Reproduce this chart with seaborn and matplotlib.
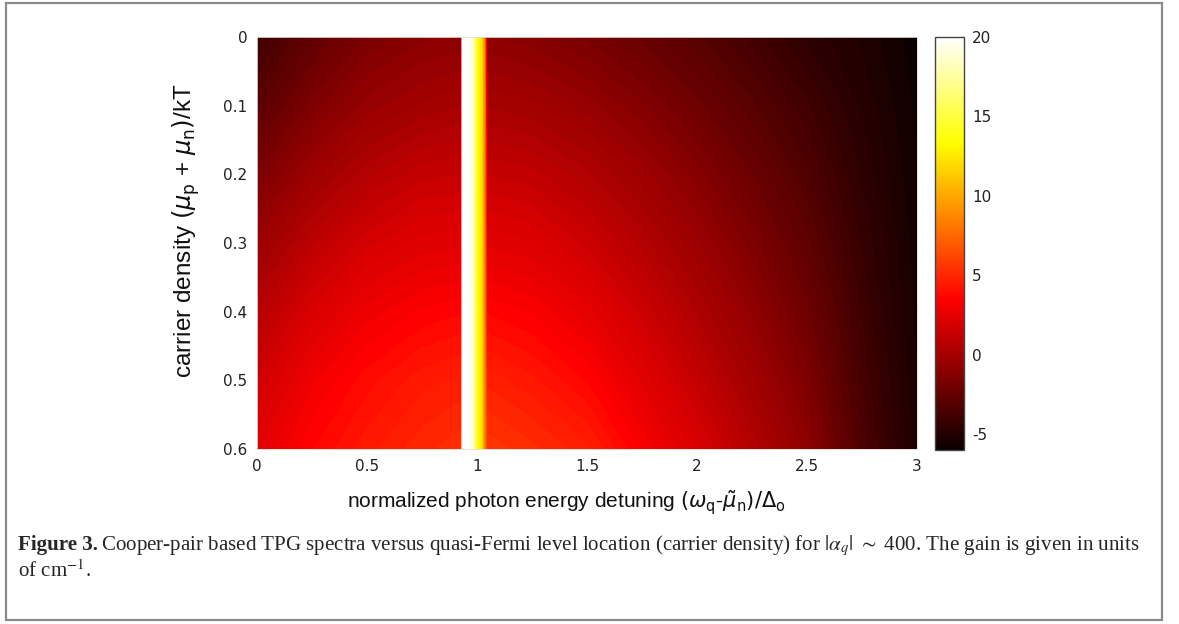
import numpy as np
import matplotlib
matplotlib.use("Agg")
import matplotlib.pyplot as plt
import matplotlib.patches as mpatches
from matplotlib.colors import Normalize
from matplotlib.cm import ScalarMappable
import seaborn as sns

# ---- data ----
carrier_density = [0.0, 0.1, 0.2, 0.3, 0.4, 0.5, 0.6]
detuning = [0.0, 0.25, 0.5, 0.75, 0.928, 0.936, 0.982, 0.995, 1.02, 1.035, 1.045,
            1.25, 1.5, 1.75, 2.0, 2.25, 2.5, 2.75, 3.0]
gain_y00 = [-4.0, -2.6, -1.6, -1.1, -1.0, 21, 18.5, 14, 12, 8, -1.0, -1.2, -1.7, -2.3, -3.0, -3.8, -4.6, -5.2, -5.9]
gain_y01 = [-2.9, -1.5, -0.6, -0.1, 0.1, 21, 18.5, 14, 12, 8, 0.1, -0.1, -0.6, -1.3, -2.1, -3.0, -3.9, -4.9, -5.8]
gain_y02 = [-1.6, -0.3, 0.6, 1.2, 1.3, 21, 18.5, 14, 12, 8, 1.3, 1.1, 0.5, -0.3, -1.2, -2.2, -3.3, -4.6, -5.7]
gain_y03 = [-0.4, 0.9, 1.8, 2.3, 2.4, 21, 18.5, 14, 12, 8, 2.4, 2.2, 1.5, 0.6, -0.4, -1.5, -2.7, -4.3, -5.6]
gain_y04 = [0.7, 2.0, 2.9, 3.4, 3.6, 21, 18.5, 14, 12, 8, 3.6, 3.3, 2.6, 1.5, 0.4, -0.8, -2.1, -4.0, -5.5]
gain_y05 = [1.6, 3.0, 3.8, 4.4, 4.6, 21, 18.5, 14, 12, 8, 4.7, 4.3, 3.6, 2.4, 1.2, -0.1, -1.5, -3.7, -5.4]
gain_y06 = [2.4, 3.6, 4.4, 5.0, 5.3, 21, 18.5, 14, 12, 8, 5.6, 5.2, 4.6, 3.3, 2.0, 0.6, -0.9, -3.4, -5.3]
x_ticks = [0, 0.5, 1, 1.5, 2, 2.5, 3]
x_ticklabels = ["0", "0.5", "1", "1.5", "2", "2.5", "3"]
y_ticks = [0, 0.1, 0.2, 0.3, 0.4, 0.5, 0.6]
y_ticklabels = ["0", "0.1", "0.2", "0.3", "0.4", "0.5", "0.6"]
cbar_ticks = [-5, 0, 5, 10, 15, 20]
cbar_ticklabels = ["-5", "0", "5", "10", "15", "20"]

sns.set_theme(style="white")
plt.rcParams['font.family'] = ['DejaVu Sans']
plt.rcParams['axes.unicode_minus'] = False

Z = np.array([gain_y00, gain_y01, gain_y02, gain_y03, gain_y04, gain_y05, gain_y06])
X, Y = np.meshgrid(detuning, carrier_density)

W, H = 1179, 624
fig = plt.figure(figsize=(W / 100, H / 100), dpi=100)

cmap = sns.color_palette("hot", as_cmap=True)
norm = Normalize(vmin=-6, vmax=20)
ax = fig.add_axes([257 / W, 1 - 449 / H, 660 / W, 412 / H])
levels = np.linspace(-6, 20, 90)
ax.contourf(X, Y, Z, levels=levels, cmap=cmap, norm=norm, extend="both", antialiased=False)
ax.set_xlim(0, 3)
ax.set_ylim(0.6, 0)
ax.set_xticks(x_ticks)
ax.set_xticklabels(x_ticklabels)
ax.set_yticks(y_ticks)
ax.set_yticklabels(y_ticklabels)
ax.tick_params(axis="both", length=0, labelsize=11, colors="#222222", pad=7)
for s in ax.spines.values():
    s.set_color("#dddddd")
    s.set_linewidth(0.6)

label_fam = ['Liberation Sans Narrow', 'Liberation Sans', 'DejaVu Sans']
ax.set_xlabel(r"normalized photon energy detuning $(\omega_{\rm q}$-$\tilde{\mu}_{\rm n})/\Delta_{\rm o}$",
              fontsize=15, family=label_fam, color="#111111")
ax.xaxis.set_label_coords(0.468, -0.095)
ax.set_ylabel(r"carrier density $(\mu_{\rm p}$ + $\mu_{\rm n})$/kT",
              fontsize=17.5, family=label_fam, color="#111111")
ax.yaxis.set_label_coords(-0.083, 0.53)

cax = fig.add_axes([935 / W, 1 - 450 / H, 29 / W, 413 / H])
cb = fig.colorbar(ScalarMappable(norm=norm, cmap=cmap), cax=cax, ticks=cbar_ticks)
cb.ax.set_yticklabels(cbar_ticklabels)
cb.ax.tick_params(direction="in", length=3, width=0.8, labelsize=11, colors="#222222", pad=6)
cb.outline.set_edgecolor("#444444")
cb.outline.set_linewidth(1.0)

# outer frame
fig.patches.append(mpatches.Rectangle((6 / W, 1 - 620 / H), 1156 / W, 617 / H,
                                      transform=fig.transFigure, fill=False,
                                      edgecolor="#8a8a8a", linewidth=1.6))

# caption
serif = ['Liberation Serif', 'DejaVu Serif']
cap_size = 15.1
t1 = fig.text(18 / W, 1 - 550 / H, "Figure 3.", fontsize=cap_size, fontweight="bold",
              family=serif, va="baseline", ha="left")
fig.canvas.draw()
r = fig.canvas.get_renderer()
bb = t1.get_window_extent(renderer=r)
fig.text((bb.x1 + 3) / W, 1 - 550 / H,
         r"Cooper-pair based TPG spectra versus quasi-Fermi level location (carrier density) for $|\alpha_q|$ $\sim$ 400. The gain is given in units",
         fontsize=cap_size, family=serif, va="baseline", ha="left", math_fontfamily="stix")
fig.text(18 / W, 1 - 577 / H, r"of cm$^{-1}$.", fontsize=cap_size, family=serif,
         va="baseline", ha="left", math_fontfamily="stix")

fig.savefig("out.png", dpi=100)
